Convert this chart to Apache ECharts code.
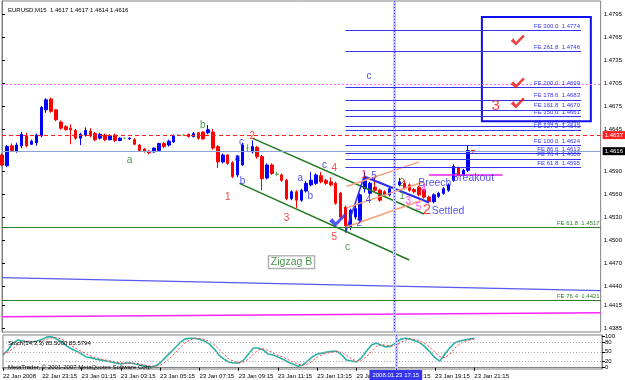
<!DOCTYPE html>
<html>
<head>
<meta charset="utf-8">
<script src="https://cdn.jsdelivr.net/npm/echarts@6/dist/echarts.min.js"></script>
<style>
  html, body { margin: 0; padding: 0; background: #fff; }
  #chart { width: 625px; height: 380px; }
</style>
</head>
<body>
<div id="chart"></div>
<script>
'use strict';

// time axis: one label every 8 bars (M15)
var timeLabels = ['22 Jan 2008', '22 Jan 23:15', '23 Jan 01:15', '23 Jan 03:15', '23 Jan 05:15',
  '23 Jan 07:15', '23 Jan 09:15', '23 Jan 11:15', '23 Jan 13:15', '23 Jan 15:15',
  '23 Jan 17:15', '23 Jan 19:15', '23 Jan 21:15'];
var labelStep = 8;
var slotCount = 123; // 97 bars + empty room on the right

// [open, high, low, close]
var ohlc = [
  [1.4611, 1.4613, 1.4596, 1.4598], [1.4597, 1.4624, 1.4595, 1.4622], [1.4623, 1.4626, 1.4615, 1.4617],
  [1.4616, 1.4627, 1.4614, 1.4624], [1.4623, 1.4641, 1.4620, 1.4638], [1.4636, 1.4640, 1.4621, 1.4623],
  [1.4625, 1.4631, 1.4624, 1.4629], [1.4627, 1.4639, 1.4623, 1.4637], [1.4636, 1.4675, 1.4634, 1.4673],
  [1.4670, 1.4685, 1.4666, 1.4683], [1.4684, 1.4686, 1.4666, 1.4668], [1.4670, 1.4671, 1.4655, 1.4657],
  [1.4654, 1.4656, 1.4644, 1.4646], [1.4648, 1.4650, 1.4643, 1.4644], [1.4646, 1.4651, 1.4625, 1.4644],
  [1.4643, 1.4645, 1.4631, 1.4633], [1.4633, 1.4640, 1.4624, 1.4638], [1.4637, 1.4647, 1.4635, 1.4643],
  [1.4642, 1.4646, 1.4634, 1.4636], [1.4639, 1.4641, 1.4629, 1.4631], [1.4633, 1.4640, 1.4631, 1.4638],
  [1.4637, 1.4639, 1.4629, 1.4631], [1.4631, 1.4638, 1.4630, 1.4636], [1.4637, 1.4639, 1.4628, 1.4630],
  [1.4630, 1.4634, 1.4629, 1.4633], [1.4633, 1.4634, 1.4632, 1.4633], [1.4632, 1.4634, 1.4631, 1.4633],
  [1.4631, 1.4633, 1.4624, 1.4625], [1.4624, 1.4625, 1.4615, 1.4617], [1.4619, 1.4620, 1.4614, 1.4616],
  [1.4616, 1.4617, 1.4612, 1.4614], [1.4615, 1.4621, 1.4614, 1.4620], [1.4617, 1.4627, 1.4616, 1.4626],
  [1.4626, 1.4628, 1.4620, 1.4622], [1.4624, 1.4631, 1.4622, 1.4629], [1.4628, 1.4638, 1.4627, 1.4636],
  [1.4637, 1.4638, 1.4636, 1.4637], [1.4637, 1.4638, 1.4636, 1.4637], [1.4638, 1.4639, 1.4634, 1.4635],
  [1.4635, 1.4641, 1.4634, 1.4639], [1.4640, 1.4641, 1.4631, 1.4633], [1.4641, 1.4642, 1.4631, 1.4632],
  [1.4640, 1.4650, 1.4638, 1.4644], [1.4641, 1.4645, 1.4618, 1.4620], [1.4622, 1.4624, 1.4594, 1.4602],
  [1.4602, 1.4613, 1.4600, 1.4611], [1.4611, 1.4612, 1.4598, 1.4600], [1.4601, 1.4603, 1.4581, 1.4583],
  [1.4585, 1.4611, 1.4582, 1.4609], [1.4598, 1.4627, 1.4597, 1.4624], [1.4620, 1.4625, 1.4616, 1.4620],
  [1.4615, 1.4630, 1.4613, 1.4622], [1.4621, 1.4623, 1.4606, 1.4609], [1.4609, 1.4611, 1.4565, 1.4580],
  [1.4581, 1.4600, 1.4579, 1.4598], [1.4598, 1.4600, 1.4585, 1.4587], [1.4586, 1.4589, 1.4583, 1.4586],
  [1.4585, 1.4587, 1.4576, 1.4578], [1.4578, 1.4580, 1.4552, 1.4554], [1.4554, 1.4565, 1.4552, 1.4563],
  [1.4563, 1.4565, 1.4542, 1.4552], [1.4552, 1.4567, 1.4550, 1.4565], [1.4564, 1.4577, 1.4562, 1.4574],
  [1.4572, 1.4589, 1.4570, 1.4578], [1.4574, 1.4587, 1.4572, 1.4585], [1.4584, 1.4589, 1.4574, 1.4576],
  [1.4578, 1.4580, 1.4572, 1.4574], [1.4576, 1.4582, 1.4570, 1.4572], [1.4574, 1.4576, 1.4546, 1.4548],
  [1.4561, 1.4563, 1.4528, 1.4530], [1.4543, 1.4545, 1.4510, 1.4519], [1.4517, 1.4541, 1.4513, 1.4539],
  [1.4530, 1.4546, 1.4527, 1.4541], [1.4526, 1.4561, 1.4522, 1.4559], [1.4567, 1.4589, 1.4562, 1.4580],
  [1.4561, 1.4576, 1.4559, 1.4574], [1.4569, 1.4582, 1.4563, 1.4565], [1.4565, 1.4567, 1.4550, 1.4552],
  [1.4563, 1.4565, 1.4557, 1.4559], [1.4559, 1.4569, 1.4557, 1.4567], [1.4567, 1.4578, 1.4565, 1.4576],
  [1.4572, 1.4581, 1.4570, 1.4576], [1.4574, 1.4578, 1.4566, 1.4568], [1.4572, 1.4574, 1.4563, 1.4565],
  [1.4566, 1.4568, 1.4561, 1.4563], [1.4569, 1.4571, 1.4557, 1.4559], [1.4565, 1.4567, 1.4554, 1.4556],
  [1.4556, 1.4558, 1.4548, 1.4550], [1.4550, 1.4561, 1.4548, 1.4559], [1.4557, 1.4563, 1.4555, 1.4561],
  [1.4561, 1.4569, 1.4559, 1.4567], [1.4565, 1.4574, 1.4563, 1.4572], [1.4578, 1.4599, 1.4576, 1.4596],
  [1.4594, 1.4596, 1.4583, 1.4585], [1.4585, 1.4593, 1.4583, 1.4591], [1.4591, 1.4624, 1.4589, 1.4617],
  [1.4617, 1.4617, 1.4614, 1.4616]
];

var stochMain = [40, 56, 78, 87, 84, 81, 81, 84, 90, 97, 97, 90, 81, 68, 59, 52, 43, 34, 31, 27,
  24, 21, 18, 15, 12, 15, 15, 12, 8, 5, 2, 5, 15, 31, 46, 62, 78, 90, 93, 93,
  90, 84, 75, 59, 40, 27, 18, 15, 15, 24, 43, 62, 62, 56, 43, 40, 34, 27, 18, 12,
  5, 8, 21, 34, 43, 46, 49, 52, 52, 40, 24, 21, 18, 31, 52, 71, 78, 71, 65, 68,
  78, 90, 93, 90, 84, 78, 65, 49, 31, 21, 43, 62, 78, 84, 87, 90, 93];
var stochSignal = [45, 48, 60, 74, 83, 84, 82, 82, 85, 90, 94, 95, 89, 80, 69, 60, 51, 43, 36, 31,
  27, 24, 21, 18, 15, 14, 14, 14, 12, 8, 5, 4, 7, 17, 31, 46, 62, 77, 87, 92,
  92, 89, 83, 73, 58, 42, 28, 20, 16, 18, 27, 43, 56, 60, 54, 46, 39, 34, 26, 19,
  12, 8, 11, 21, 33, 41, 46, 49, 51, 48, 39, 28, 21, 23, 34, 51, 67, 73, 71, 68,
  70, 79, 87, 91, 89, 84, 76, 64, 48, 34, 32, 42, 61, 75, 83, 87, 90];

var priceTicks = [1.4795, 1.4765, 1.4735, 1.4705, 1.4675, 1.4645, 1.4590, 1.4560,
  1.4530, 1.4500, 1.4470, 1.4440, 1.4415, 1.4385];
var stochTicks = [0, 20, 50, 80, 100];
var stochLevels = [20, 50, 80];

var bidPrice = 1.4616;
var askLevel = 1.4637;
var pivotLevel = 1.4704;
var targetNames = ['FE 61.8  1.4517', 'FE 76.4  1.4421'];
var targetLevels = [1.4517, 1.4421];

// fibonacci expansion set drawn from bar 70 to bar 118
var feNames = ['FE 300.0  1.4774', 'FE 261.8  1.4746', 'FE 200.0  1.4699', 'FE 178.6  1.4683',
  'FE 161.8  1.4670', 'FE 150.0  1.4661', 'FE 138.2  1.4648', 'FE 127.2  1.4643',
  'FE 100.0  1.4624', 'FE 86.6  1.4613', 'FE 76.4  1.4606', 'FE 61.8  1.4595'];
var feLevels = [1.4774, 1.4746, 1.4699, 1.4683, 1.4670, 1.4661, 1.4648, 1.4643,
  1.4624, 1.4613, 1.4606, 1.4595];
var feSpan = [70, 118];

// drawn objects, [bar, price]
var longBlueLine = [[0, 1.4451], [122, 1.4434]];
var longMagentaLine = [[0, 1.4400], [122, 1.4405]];
var channelTop = [[51, 1.4633], [86, 1.4534]];
var channelBottom = [[48.4, 1.4574], [83, 1.4474]];
var forkLines = [
  [[70.2, 1.4570], [85, 1.4602]],
  [[70.2, 1.4542], [86, 1.4576]],
  [[70.2, 1.4517], [85.6, 1.4552]]
];
var waveLine = [[70, 1.4510], [73.8, 1.4583]];
var breechLine = [[73.8, 1.4583], [87, 1.4549]];
var breakoutLine = [[87, 1.4585], [102, 1.4585]];
var targetBox = [[97.8, 1.4791], [120, 1.4655]];
var redChecks = [[105.1, 1.4761], [105.1, 1.4705], [105.1, 1.4679]];
var blueChecks = [[68.4, 1.4526]];

var cursorBar = 80;
var cursorText = '2008.01.23 17:15';

// text objects, [text, bar, price]
var greenText = [['a', 26, 1.4604], ['b', 40.9, 1.4650], ['c', 70.4, 1.4491], ['1', 81.5, 1.4557]];
var redText = [['1', 46, 1.4556], ['2', 51, 1.4636], ['3', 58, 1.4529], ['4', 67.7, 1.4594],
  ['5', 67.7, 1.4504], ['1', 73.8, 1.4585]];
var blueText = [['c', 48.8, 1.4627], ['a', 48, 1.4607], ['b', 49, 1.4577], ['c', 65.7, 1.4597],
  ['a', 60.8, 1.4581], ['b', 62.8, 1.4557], ['5', 75.8, 1.4583], ['4', 74.7, 1.4552],
  ['2', 72.8, 1.4522], ['c', 74.8, 1.4714]];
var magentaText = [['3', 82.8, 1.4551], ['5', 84.9, 1.4543], ['4', 85.9, 1.4566]];
var oliveText = [['2', 81.5, 1.4574]];
var bigRedText = [['3', 100.6, 1.4675], ['2', 86.6, 1.4539]];
var noteText = [['Breech', 88.2, 1.4574], ['Settled', 90.9, 1.4538], ['Breakout', 96, 1.4581]];
var boxedText = [['Zigzag B', 59, 1.4471]];

var FONT = 'Liberation Sans';
var CHECK = 'path://M0,7 L3,4 L6,8 L14,0 L16,2 L6,12 Z';

var slots = [];
for (var i = 0; i < slotCount; i++) {
  slots.push(String(i));
}

var candleData = ohlc.map(function (b) {
  // echarts wants open, close, low, high
  return [b[0], b[3], b[2], b[1]];
});

function showTime(idx) {
  return idx % labelStep === 0 && idx / labelStep < timeLabels.length;
}

function lineSeries(points, color, width, type) {
  return {
    type: 'line', xAxisIndex: 2, yAxisIndex: 0, data: points, symbol: 'none',
    silent: true, z: 4, lineStyle: {color: color, width: width, type: type || 'solid'}
  };
}

function textSeries(items, color, size, boxed) {
  var label = {
    show: true, position: 'inside', formatter: '{b}', color: color,
    fontSize: size, fontFamily: FONT
  };
  if (boxed) {
    label.borderColor = '#8a8a8a';
    label.borderWidth = 1;
    label.padding = [1, 2, 0, 2];
    label.backgroundColor = '#ffffff';
  }
  return {
    type: 'scatter', xAxisIndex: 2, yAxisIndex: 0, silent: true, z: 8,
    symbolSize: 1, itemStyle: {color: 'rgba(0,0,0,0)'},
    data: items.map(function (t) { return {name: t[0], value: [t[1], t[2]]}; }),
    label: label
  };
}

function checkSeries(points, color, size) {
  return {
    type: 'scatter', xAxisIndex: 2, yAxisIndex: 0, silent: true, z: 7,
    symbol: CHECK, symbolSize: size, itemStyle: {color: color}, data: points
  };
}

var smallText = {fontSize: 6, color: '#000', fontWeight: 'normal', fontFamily: FONT};
var priceBox = {show: true, position: 'end', color: '#fff', fontSize: 6, padding: [1, 2], distance: 2};

var levelMarks = [
  {yAxis: pivotLevel, lineStyle: {color: '#ff66ff', type: [2, 2], width: 1}, label: {show: false}},
  {yAxis: bidPrice, lineStyle: {color: '#8aa4d6', type: 'solid', width: 1},
    label: Object.assign({formatter: bidPrice.toFixed(4), backgroundColor: '#000'}, priceBox)},
  {yAxis: askLevel, lineStyle: {color: '#ff2020', type: [4, 3], width: 1},
    label: Object.assign({formatter: askLevel.toFixed(4), backgroundColor: '#ff2020'}, priceBox)},
  {xAxis: cursorBar, lineStyle: {color: '#c4c4ff', type: 'solid', width: 3}, label: {show: false}},
  {xAxis: cursorBar, lineStyle: {color: '#4040ff', type: [1, 2], width: 1}, label: {show: false}}
];
targetLevels.forEach(function (v, k) {
  levelMarks.push({yAxis: v, lineStyle: {color: '#2e7d2e', type: 'solid', width: 1},
    label: {show: true, position: 'insideEndTop', formatter: targetNames[k], color: '#2e7d2e',
      fontSize: 6, distance: 1}});
});
feLevels.forEach(function (v, k) {
  levelMarks.push([
    {coord: [feSpan[0], v], lineStyle: {color: '#3434ee', width: 1, type: 'solid'},
      label: {show: true, position: 'insideEndTop', formatter: feNames[k], color: '#3434ee',
        fontSize: 6, distance: 1}},
    {coord: [feSpan[1], v]}
  ]);
});

var stochMarks = stochLevels.map(function (v) {
  return {yAxis: v, lineStyle: {color: '#a8a8a8', type: [1, 2], width: 1}, label: {show: false}};
});
stochMarks.push({xAxis: String(cursorBar), lineStyle: {color: '#c4c4ff', type: 'solid', width: 3},
  label: {show: true, position: 'start', formatter: cursorText, backgroundColor: '#3535ee',
    color: '#fff', fontSize: 6, padding: [2, 3], distance: 1}});
stochMarks.push({xAxis: String(cursorBar), lineStyle: {color: '#4040ff', type: [1, 2], width: 1},
  label: {show: false}});

var series = [
  {
    type: 'candlestick', xAxisIndex: 0, yAxisIndex: 0, data: candleData, barWidth: 3, z: 3,
    itemStyle: {color: '#0000ff', color0: '#ff0000', borderColor: '#0000ff', borderColor0: '#ff0000',
      borderColorDoji: '#5fae5f', borderWidth: 1}
  },
  {
    // carrier for levels, fibonacci lines and the target box
    type: 'line', xAxisIndex: 2, yAxisIndex: 0, data: [], z: 4,
    markLine: {silent: true, symbol: ['none', 'none'], animation: false, precision: 4, data: levelMarks},
    markArea: {silent: true, itemStyle: {color: 'rgba(0,0,0,0)', borderColor: '#1010ee', borderWidth: 2},
      data: [[{coord: targetBox[0]}, {coord: targetBox[1]}]]}
  },
  lineSeries(longBlueLine, '#5858ee', 1.2),
  lineSeries(longMagentaLine, '#ff22ff', 1.5),
  lineSeries(channelTop, '#1f7a1f', 1.5),
  lineSeries(channelBottom, '#1f7a1f', 1.5),
  lineSeries(waveLine, '#2b2bee', 1.5),
  lineSeries(breechLine, '#2b2bee', 2),
  lineSeries(breakoutLine, '#ee22ee', 1.5)
];
forkLines.forEach(function (pts) {
  series.push(lineSeries(pts, '#f5a27a', 1.5));
});
series.push(checkSeries(redChecks, '#ee1111', [14, 11]));
series.push(checkSeries(blueChecks, '#2b2bee', [17, 13]));
series.push(textSeries(greenText, '#1f7a1f', 10));
series.push(textSeries(redText, '#ee1515', 10));
series.push(textSeries(blueText, '#2222ee', 10));
series.push(textSeries(magentaText, '#ff22ff', 10));
series.push(textSeries(oliveText, '#6b6b12', 10));
series.push(textSeries(bigRedText, '#ee1515', 15));
series.push(textSeries(noteText, '#2a2aee', 10.5));
series.push(textSeries(boxedText, '#1f7a1f', 10.5, true));
series.push({
  type: 'line', xAxisIndex: 1, yAxisIndex: 1, data: stochMain, symbol: 'none', z: 4,
  lineStyle: {color: '#2ab3a6', width: 1.6},
  markLine: {silent: true, symbol: ['none', 'none'], animation: false, data: stochMarks}
});
series.push({
  type: 'line', xAxisIndex: 1, yAxisIndex: 1, data: stochSignal, symbol: 'none', z: 4,
  lineStyle: {color: '#ff3a3a', width: 1, type: [2, 2]}
});

var option = {
  animation: false,
  backgroundColor: '#ffffff',
  textStyle: {fontFamily: FONT},
  title: [
    {text: 'EURUSD,M15  1.4617 1.4617 1.4614 1.4616', left: 3, top: 2, textStyle: smallText},
    {text: 'Stoch(14,3,3) 85.5000 85.5794', left: 3, top: 335, textStyle: smallText},
    {text: 'MetaTrader, \u00a9 2001-2007 MetaQuotes Software Corp.', left: 3, top: 359, textStyle: smallText}
  ],
  grid: [
    {left: 2, right: 23, top: 1, height: 331, show: true, borderColor: '#808080', borderWidth: 1},
    {left: 2, right: 23, top: 335, height: 34, show: true, borderColor: '#808080', borderWidth: 1}
  ],
  xAxis: [
    {type: 'category', gridIndex: 0, data: slots, boundaryGap: false,
      axisLine: {show: false}, axisTick: {show: false}, axisLabel: {show: false}, splitLine: {show: false}},
    {type: 'category', gridIndex: 1, data: slots, boundaryGap: false,
      axisLine: {lineStyle: {color: '#808080'}},
      axisTick: {interval: showTime, length: 3, lineStyle: {color: '#000'}},
      axisLabel: {interval: showTime, align: 'left', fontSize: 6, color: '#000', margin: 4,
        formatter: function (v, idx) { return timeLabels[idx / labelStep]; }},
      splitLine: {show: false}},
    {type: 'value', gridIndex: 0, min: 0, max: slotCount - 1, show: false}
  ],
  yAxis: [
    {type: 'value', gridIndex: 0, position: 'right', min: 1.4380, max: 1.4812,
      axisLine: {show: true, lineStyle: {color: '#808080'}},
      axisTick: {show: true, length: 3, customValues: priceTicks, lineStyle: {color: '#000'}},
      axisLabel: {customValues: priceTicks, fontSize: 6, color: '#000', margin: 3,
        formatter: function (v) { return v.toFixed(4); }},
      splitLine: {show: false}},
    {type: 'value', gridIndex: 1, position: 'right', min: -4, max: 103,
      axisLine: {show: true, lineStyle: {color: '#808080'}},
      axisTick: {show: true, length: 3, customValues: stochTicks, lineStyle: {color: '#000'}},
      axisLabel: {customValues: stochTicks, fontSize: 6, color: '#000', margin: 3},
      splitLine: {show: false}}
  ],
  series: series
};

var chart = echarts.init(document.getElementById('chart'));
chart.setOption(option);
</script>
</body>
</html>
